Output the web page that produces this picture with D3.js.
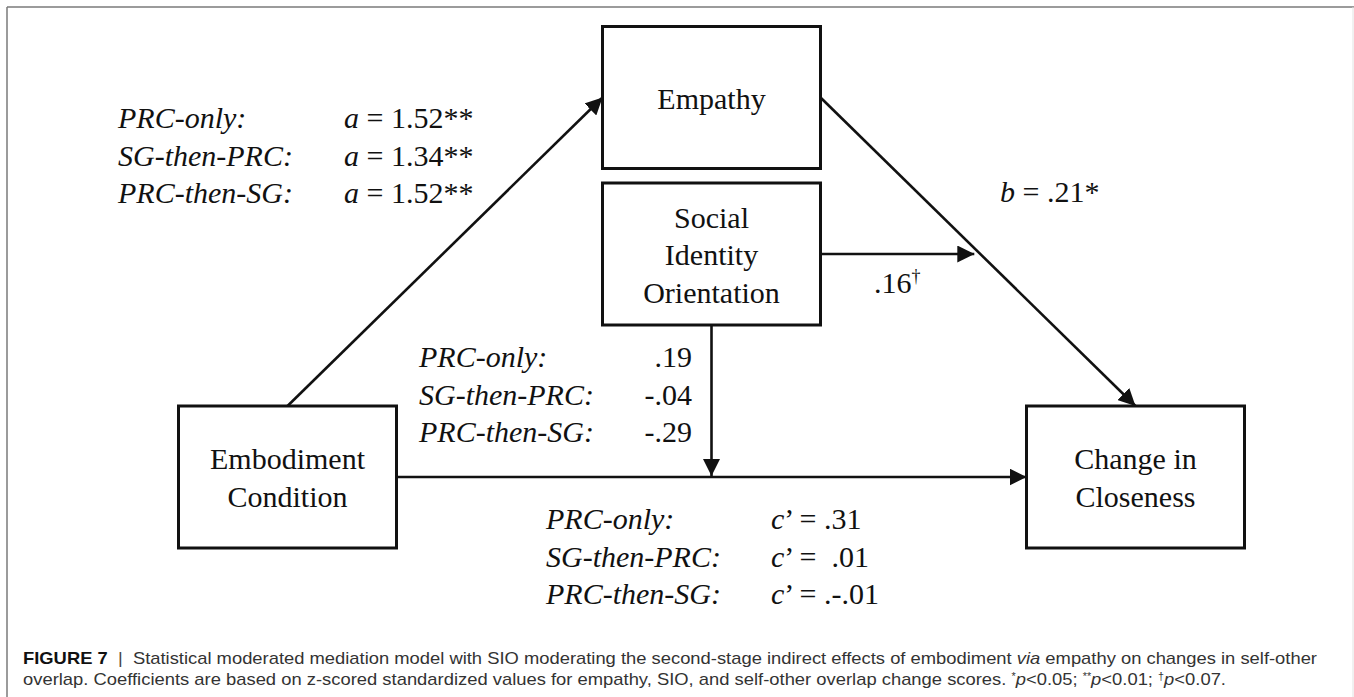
<!DOCTYPE html>
<html lang="en">
<head>
    <script src="https://cdn.jsdelivr.net/npm/d3@7/dist/d3.min.js"></script>
    <meta charset="UTF-8">
    <title>Figure 7</title>
    <style>
        html, body {
            margin: 0;
            padding: 0;
            background: #fff;
        }

        .box rect {
            fill: #fff;
            stroke: #111;
            stroke-width: 3px;
        }

        .diagram text {
            font-family: "Liberation Serif", "Times New Roman", serif;
            font-size: 30px;
            fill: #111;
        }

        .path-line {
            stroke: #111;
            stroke-width: 2.6px;
        }

        .caption {
            font-family: "Liberation Sans", Arial, Helvetica, sans-serif;
            font-size: 17px;
            fill: #333;
        }
    </style>
</head>
<body>
<svg id="svg_floor"></svg>
<script>
    // model variables and coefficients
    var nodeIds = ["X", "M", "W", "Y"];
    var nodeLabels = [["Embodiment", "Condition"], ["Empathy"], ["Social", "Identity", "Orientation"], ["Change in", "Closeness"]];
    var conditions = ["PRC-only:", "SG-then-PRC:", "PRC-then-SG:"];
    var aValues = ["1.52**", "1.34**", "1.52**"];
    var modValues = [".19", "-.04", "-.29"];
    var cValues = [".31", " .01", ".-.01"];
    var bValue = ".21*";
    var wbValue = ".16";
    var wbMark = "\u2020";

    var width = 1354, height = 697;
    var svg = d3.select("svg")
            .attr("width", width)
            .attr("height", height);

    // frame
    svg.append("line").attr("x1", 7).attr("y1", 7).attr("x2", width).attr("y2", 7)
            .attr("stroke", "#7a7a7a").attr("stroke-width", 1.5);
    svg.append("line").attr("x1", 7).attr("y1", 7).attr("x2", 7).attr("y2", height)
            .attr("stroke", "#7a7a7a").attr("stroke-width", 1.5);
    svg.append("line").attr("x1", 1353).attr("y1", 7).attr("x2", 1353).attr("y2", height)
            .attr("stroke", "#e2e2e2").attr("stroke-width", 1);

    var col = d3.scalePoint().domain(["left", "mid", "right"]).range([287.5, 1135.5]);
    var row = d3.scaleOrdinal().domain(["top", "mid", "bottom"]).range([97.5, 254, 477]);
    var place = {X: ["left", "bottom"], M: ["mid", "top"], W: ["mid", "mid"], Y: ["right", "bottom"]};
    var boxW = 218, boxH = 142;

    var nodes = nodeIds.map(function (id, i) {
        return {id: id, lines: nodeLabels[i], cx: col(place[id][0]), cy: row(place[id][1])};
    });
    var byId = {};
    nodes.forEach(function (d) { byId[d.id] = d; });

    function side(d, s) {
        if (s === "top") return [d.cx, d.cy - boxH / 2];
        if (s === "bottom") return [d.cx, d.cy + boxH / 2];
        if (s === "left") return [d.cx - boxW / 2, d.cy];
        return [d.cx + boxW / 2, d.cy];
    }

    var g = svg.append("g").attr("class", "diagram");

    svg.append("defs").append("marker")
            .attr("id", "head")
            .attr("markerUnits", "userSpaceOnUse")
            .attr("viewBox", "0 0 17 17")
            .attr("refX", 17).attr("refY", 8.5)
            .attr("markerWidth", 17).attr("markerHeight", 17)
            .attr("orient", "auto")
            .append("path")
            .attr("d", "M0,0L17,8.5L0,17Z")
            .attr("fill", "#111");

    var bStart = side(byId.M, "right"), bEnd = side(byId.Y, "top");
    var wStart = side(byId.W, "right");
    var hitX = bStart[0] + (wStart[1] - bStart[1]) * (bEnd[0] - bStart[0]) / (bEnd[1] - bStart[1]) - 6;
    var cStart = side(byId.X, "right"), cEnd = side(byId.Y, "left");

    var links = [
        {from: side(byId.X, "top"), to: side(byId.M, "left")},
        {from: bStart, to: bEnd},
        {from: cStart, to: cEnd},
        {from: side(byId.W, "bottom"), to: [byId.W.cx, cStart[1] - 1]},
        {from: wStart, to: [hitX, wStart[1]]}
    ];

    g.selectAll(".path-line")
            .data(links)
            .enter().append("line")
            .attr("class", "path-line")
            .attr("x1", function (d) { return d.from[0]; })
            .attr("y1", function (d) { return d.from[1]; })
            .attr("x2", function (d) { return d.to[0]; })
            .attr("y2", function (d) { return d.to[1]; })
            .attr("marker-end", "url(#head)");

    var box = g.selectAll(".box")
            .data(nodes)
            .enter().append("g")
            .attr("class", "box");

    box.append("rect")
            .attr("x", function (d) { return d.cx - boxW / 2; })
            .attr("y", function (d) { return d.cy - boxH / 2; })
            .attr("width", boxW)
            .attr("height", boxH);

    box.append("text")
            .attr("text-anchor", "middle")
            .selectAll("tspan")
            .data(function (d) {
                return d.lines.map(function (t, i) {
                    return {t: t, x: d.cx, y: d.cy + 11 - (d.lines.length - 1) * 37.5 / 2 + i * 37.5};
                });
            })
            .enter().append("tspan")
            .attr("x", function (d) { return d.x; })
            .attr("y", function (d) { return d.y; })
            .text(function (d) { return d.t; });

    // label blocks
    function block(x0, x1, y0, values, prefix, anchor) {
        conditions.forEach(function (c, i) {
            var y = y0 + i * 37.5;
            g.append("text").attr("x", x0).attr("y", y)
                    .style("font-style", "italic").text(c);
            var t = g.append("text").attr("x", x1).attr("y", y)
                    .attr("text-anchor", anchor)
                    .attr("xml:space", "preserve")
                    .style("white-space", "pre");
            if (prefix) {
                t.append("tspan").style("font-style", "italic").text(prefix);
            }
            t.append("tspan").text((prefix ? (prefix === "a" ? " = " : "\u2019 = ") : "") + values[i]);
        });
    }

    block(118, 344, 128, aValues, "a", "start");
    block(419, 692, 367, modValues, null, "end");
    block(546, 771, 529, cValues, "c", "start");

    var bt = g.append("text").attr("x", 1000).attr("y", 202);
    bt.append("tspan").style("font-style", "italic").text("b");
    bt.append("tspan").text(" = " + bValue);

    var wt = g.append("text").attr("x", 874).attr("y", 293);
    wt.append("tspan").text(wbValue);
    wt.append("tspan").attr("dy", -11).attr("fill", "#111").style("font-size", "18px").text(wbMark);

    // caption
    var capLines = [
        [
            {t: "FIGURE 7", w: "bold", f: "#111"},
            {t: "  |  ", f: "#444"},
            {t: "Statistical moderated mediation model with SIO moderating the second-stage indirect effects of embodiment "},
            {t: "via", i: true},
            {t: " empathy on changes in self-other"}
        ],
        [
            {t: "overlap. Coefficients are based on z-scored standardized values for empathy, SIO, and self-other overlap change scores. "},
            {t: "*", sup: true}, {t: "p", i: true}, {t: "<0.05; "},
            {t: "**", sup: true}, {t: "p", i: true}, {t: "<0.01; "},
            {t: "\u2020", sup: true}, {t: "p", i: true}, {t: "<0.07."}
        ]
    ];
    var capWidths = [1294, 1203];

    capLines.forEach(function (parts, li) {
        var t = svg.append("text")
                .attr("class", "caption")
                .attr("x", 23)
                .attr("y", 664 + li * 21)
                .attr("xml:space", "preserve")
                .style("white-space", "pre");
        var raised = false;
        parts.forEach(function (p) {
            var s = t.append("tspan").text(p.t);
            if (p.w) s.style("font-weight", p.w);
            if (p.f) s.attr("fill", p.f);
            if (p.i) s.style("font-style", "italic");
            if (p.sup) {
                s.attr("dy", -5).style("font-size", "10px");
                raised = true;
            } else if (raised) {
                s.attr("dy", 5);
                raised = false;
            }
        });
        var w = t.node().getComputedTextLength();
        if (Math.abs(w - capWidths[li]) > 2) {
            t.attr("textLength", capWidths[li]).attr("lengthAdjust", "spacingAndGlyphs");
        }
    });
</script>
</body>
</html>
